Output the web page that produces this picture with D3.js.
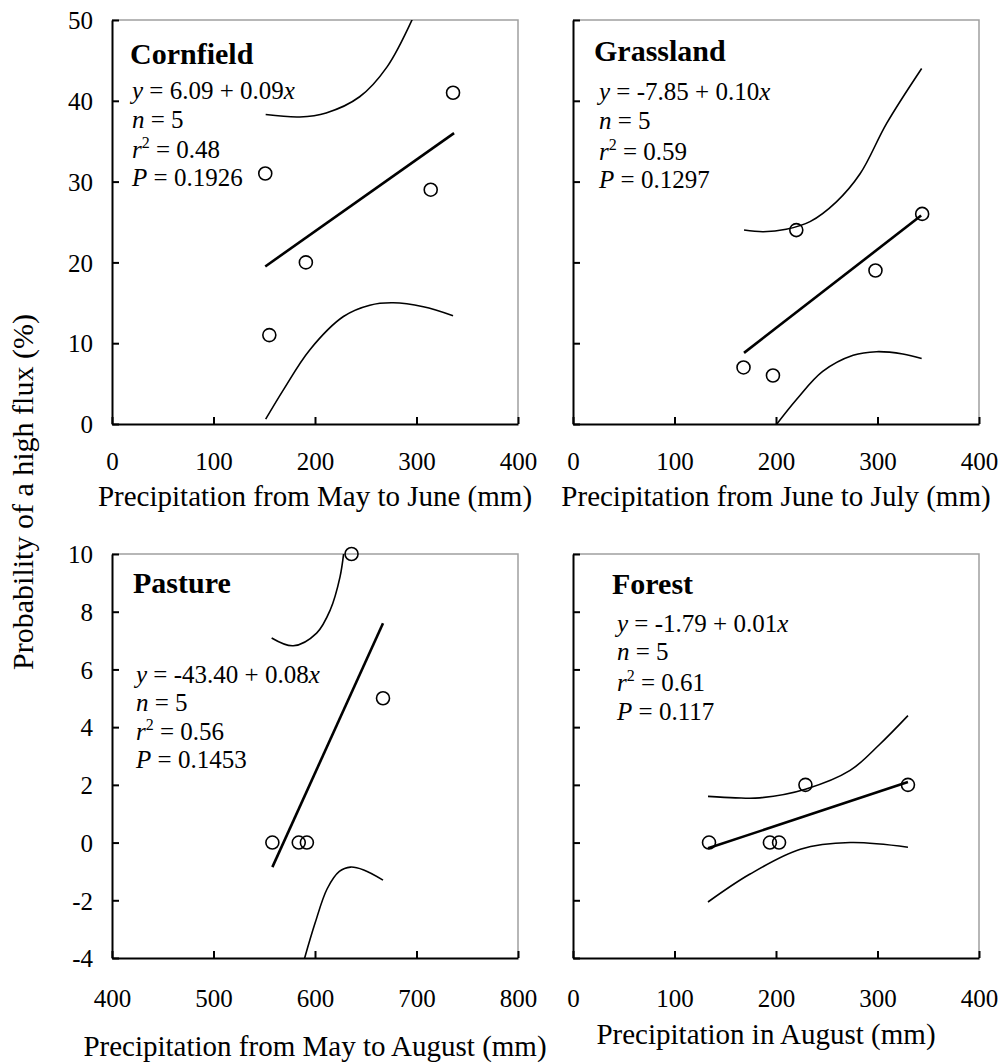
<!DOCTYPE html>
<html>
<head>
<meta charset="utf-8">
<script src="https://cdn.jsdelivr.net/npm/d3@7/dist/d3.min.js"></script>
<style>
  body { margin: 0; background: #fff; }
  svg text { font-family: "Liberation Serif", "Times New Roman", serif; fill: #000; }
</style>
</head>
<body>
<script>
// ---- data ----
const panelNames = ["Cornfield", "Grassland", "Pasture", "Forest"];
const xTitles = ["Precipitation from May to June (mm)", "Precipitation from June to July (mm)",
                 "Precipitation from May to August (mm)", "Precipitation in August (mm)"];
const yTitle = "Probability of a high flux (%)";

const xTicksTop = [0, 100, 200, 300, 400];
const xTicksPasture = [400, 500, 600, 700, 800];
const xTicksForest = [0, 100, 200, 300, 400];
const yTicksTop = [0, 10, 20, 30, 40, 50];
const yTicksBottom = [-4, -2, 0, 2, 4, 6, 8, 10];

const fitText = ["6.09 + 0.09", "-7.85 + 0.10", "-43.40 + 0.08", "-1.79 + 0.01"];
const nText = ["5", "5", "5", "5"];
const r2Text = ["0.48", "0.59", "0.56", "0.61"];
const pText = ["0.1926", "0.1297", "0.1453", "0.117"];

// points
const cornX = [151, 155, 191, 314, 336];
const cornY = [31, 11, 20, 29, 41];
const grassX = [168, 197, 220, 298, 344];
const grassY = [7, 6, 24, 19, 26];
const pastX = [558, 584, 592, 636, 667];
const pastY = [0, 0, 0, 10, 5];
const forX = [134, 194, 203, 229, 330];
const forY = [0, 0, 0, 2, 2];

// fitted line end points
const cornFit = [[151, 19.5], [337, 36.0]];
const grassFit = [[168.5, 8.8], [343, 25.8]];
const pastFit = [[558, -0.85], [667, 7.6]];
const forFit = [[133, -0.2], [330, 2.1]];

// confidence band curves
const cornUpper = [[151.4, 38.3], [185, 38.0], [211, 38.5], [244, 40.5], [271, 44.2], [297, 50.4]];
const cornLower = [[151.4, 0.6], [168.7, 4.2], [195, 9.2], [228, 13.3], [254, 14.7], [277, 15.0], [306.7, 14.5], [336, 13.4]];
const grassUpper = [[168.5, 24.0], [187.5, 23.8], [210, 24.1], [233.5, 25.05], [259.5, 27.5], [283, 31.0], [309, 37.2], [343.5, 44.0]];
const grassLower = [[199, -0.3], [220, 3.0], [246, 6.5], [276, 8.5], [299, 8.95], [325, 8.66], [343.5, 8.1]];
const pastUpper = [[557.3, 7.09], [578.6, 6.82], [601.6, 7.26], [615, 8.06], [624.6, 9.2], [628.5, 10.1]];
const pastLower = [[589, -4.1], [600, -2.8], [612, -1.6], [624, -1.0], [635, -0.85], [648, -0.95], [667, -1.3]];
const forUpper = [[133, 1.6], [160, 1.55], [184, 1.55], [229, 1.85], [273, 2.5], [302, 3.4], [330, 4.4]];
const forLower = [[133, -2.06], [174, -1.1], [224, -0.23], [273, 0.0], [330, -0.16]];

// ---- layout ----
const W = 1006, H = 1064;
const pw = 406, ph = 404;
const serif = '"Liberation Serif", "Times New Roman", serif';

const panels = [
  { left: 112, top: 20, xd: [0, 400], yd: [0, 50], xt: xTicksTop, yt: yTicksTop, yLab: true,
    xs: cornX, ys: cornY, fit: cornFit, up: cornUpper, lo: cornLower,
    name: [130, 64], eq: [132, [99, 128, 158, 186]], xtY: 461, titleY: 506 },
  { left: 573, top: 20, xd: [0, 400], yd: [0, 50], xt: xTicksTop, yt: yTicksTop, yLab: false,
    xs: grassX, ys: grassY, fit: grassFit, up: grassUpper, lo: grassLower,
    name: [594, 61], eq: [599, [100, 129, 160, 188]], xtY: 461, titleY: 506 },
  { left: 112, top: 554, xd: [400, 800], yd: [-4, 10], xt: xTicksPasture, yt: yTicksBottom, yLab: true,
    xs: pastX, ys: pastY, fit: pastFit, up: pastUpper, lo: pastLower,
    name: [133, 593], eq: [136, [683, 711, 740, 768]], xtY: 998, titleY: 1056 },
  { left: 573, top: 554, xd: [0, 400], yd: [-4, 10], xt: xTicksForest, yt: yTicksBottom, yLab: false,
    xs: forX, ys: forY, fit: forFit, up: forUpper, lo: forLower,
    name: [612, 594], eq: [617, [632, 660, 691, 720]], xtY: 998, titleY: 1044 }
];

const svg = d3.select("body").append("svg")
  .attr("width", W)
  .attr("height", H)
  .style("background-color", "white");

const line = d3.line().curve(d3.curveCatmullRom.alpha(0.5));

panels.forEach((p, i) => {
  const x = d3.scaleLinear().domain(p.xd).range([p.left, p.left + pw]);
  const y = d3.scaleLinear().domain(p.yd).range([p.top + ph, p.top]);
  line.x(d => x(d[0])).y(d => y(d[1]));

  // clip for curves
  svg.append("clipPath").attr("id", "clip" + i)
    .append("rect")
    .attr("x", p.left).attr("y", p.top)
    .attr("width", pw).attr("height", ph);

  // top & right frame (grey)
  svg.append("path")
    .attr("d", `M${p.left},${p.top}H${p.left + pw}V${p.top + ph}`)
    .attr("fill", "none")
    .attr("stroke", "#a0a0a0")
    .attr("stroke-width", 1.5);

  // axes
  const yAxis = d3.axisLeft(y).tickValues(p.yt).tickSizeInner(-7).tickSizeOuter(0)
    .tickPadding(19).tickFormat(p.yLab ? (d => String(d)) : () => "");
  const gy = svg.append("g").attr("transform", `translate(${p.left},0)`).call(yAxis);

  const xAxis = d3.axisBottom(x).tickValues(p.xt).tickSizeInner(-7).tickSizeOuter(0)
    .tickFormat(d => String(d));
  const gx = svg.append("g").attr("transform", `translate(0,${p.top + ph})`).call(xAxis);

  [gx, gy].forEach(g => {
    g.attr("font-family", serif);
    g.select(".domain").attr("stroke", "#000").attr("stroke-width", 2);
    g.selectAll(".tick line").attr("stroke", "#000").attr("stroke-width", 2);
    g.selectAll("text").style("font-family", serif).style("font-size", "25px").attr("fill", "#000");
  });
  gx.selectAll("text").attr("y", p.xtY - (p.top + ph)).attr("dy", "0.35em");
  gy.selectAll("text").attr("dy", "0.35em");

  // bands and fit
  const clip = svg.append("g").attr("clip-path", `url(#clip${i})`);
  [p.up, p.lo].forEach(b => {
    clip.append("path")
      .attr("d", line(b))
      .attr("fill", "none")
      .attr("stroke", "#000")
      .attr("stroke-width", 1.6);
  });
  svg.append("path")
    .attr("d", line(p.fit))
    .attr("fill", "none")
    .attr("stroke", "#000")
    .attr("stroke-width", 2.6);

  // points
  svg.selectAll(null)
    .data(d3.range(p.xs.length))
    .join("circle")
    .attr("cx", k => x(p.xs[k]))
    .attr("cy", k => y(p.ys[k]))
    .attr("r", 6.5)
    .attr("fill", "none")
    .attr("stroke", "#000")
    .attr("stroke-width", 1.6);

  // panel name
  svg.append("text")
    .attr("x", p.name[0]).attr("y", p.name[1])
    .style("font-size", "30px")
    .style("font-weight", "bold")
    .text(panelNames[i]);

  // statistics
  const ex = p.eq[0], ey = p.eq[1];
  const t1 = svg.append("text").attr("x", ex).attr("y", ey[0]).style("font-size", "25px");
  t1.append("tspan").style("font-style", "italic").text("y");
  t1.append("tspan").text(" = " + fitText[i]);
  t1.append("tspan").style("font-style", "italic").text("x");

  const t2 = svg.append("text").attr("x", ex).attr("y", ey[1]).style("font-size", "25px");
  t2.append("tspan").style("font-style", "italic").text("n");
  t2.append("tspan").text(" = " + nText[i]);

  const t3 = svg.append("text").attr("x", ex).attr("y", ey[2]).style("font-size", "25px");
  t3.append("tspan").style("font-style", "italic").text("r");
  t3.append("tspan").attr("dy", -10).style("font-size", "16px").text("2");
  t3.append("tspan").attr("dy", 10).text(" = " + r2Text[i]);

  const t4 = svg.append("text").attr("x", ex).attr("y", ey[3]).style("font-size", "25px");
  t4.append("tspan").style("font-style", "italic").text("P");
  t4.append("tspan").text(" = " + pText[i]);

  // x title
  svg.append("text")
    .attr("x", p.left + pw / 2 + (i === 3 ? -10 : 0))
    .attr("y", p.titleY)
    .attr("text-anchor", "middle")
    .style("font-size", "29px")
    .text(xTitles[i]);
});

// y title
svg.append("text")
  .attr("transform", "translate(33,492) rotate(-90)")
  .attr("text-anchor", "middle")
  .style("font-size", "30px")
  .text(yTitle);
</script>
</body>
</html>
